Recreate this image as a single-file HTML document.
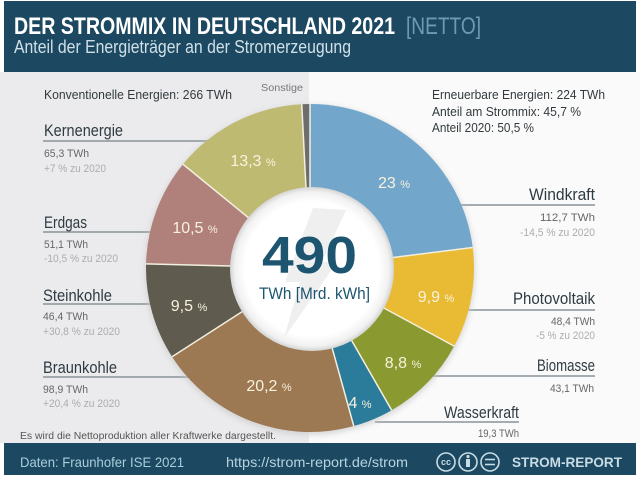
<!DOCTYPE html>
<html><head><meta charset="utf-8"><style>
html,body{margin:0;padding:0;background:#fff;}
svg{display:block;}
text{font-family:"Liberation Sans",sans-serif;}
</style></head><body>
<svg width="640" height="480" viewBox="0 0 640 480" xmlns="http://www.w3.org/2000/svg">
<defs>
<radialGradient id="wg" cx="0.5" cy="0.5" r="0.5">
<stop offset="0" stop-color="#ffffff"/>
<stop offset="0.82" stop-color="#ffffff"/>
<stop offset="0.94" stop-color="#f1f1f1"/>
<stop offset="1" stop-color="#d4d4d4"/>
</radialGradient>
<filter id="sh" x="-20%" y="-20%" width="140%" height="140%"><feGaussianBlur stdDeviation="3"/></filter>
</defs>
<rect x="0" y="0" width="640" height="480" fill="#ffffff"/>
<rect x="0" y="72" width="309" height="371" fill="#ebebed"/>
<rect x="309" y="72" width="331" height="371" fill="#fafafa"/>
<rect x="4" y="1" width="632" height="71" fill="#1c4961"/>
<rect x="4" y="443" width="632" height="32" fill="#1c4961"/>

<text x="14" y="34" font-size="24" font-weight="bold" fill="#ffffff" textLength="381" lengthAdjust="spacingAndGlyphs">DER STROMMIX IN DEUTSCHLAND 2021</text>
<text x="406" y="34" font-size="24" fill="#6e9bb2" textLength="75" lengthAdjust="spacingAndGlyphs">[NETTO]</text>
<text x="14" y="53" font-size="18" fill="#cfe0e8" textLength="337" lengthAdjust="spacingAndGlyphs">Anteil der Energieträger an der Stromerzeugung</text>

<g stroke="#8a9399" stroke-width="1.5">
<line x1="43" y1="141" x2="215" y2="141"/>
<line x1="43" y1="232" x2="160" y2="232"/>
<line x1="43" y1="304" x2="165" y2="304"/>
<line x1="43" y1="377" x2="190" y2="377"/>
<line x1="455" y1="205" x2="595" y2="205"/>
<line x1="445" y1="310" x2="595" y2="310"/>
<line x1="425" y1="376" x2="595" y2="376"/>
<line x1="375" y1="422" x2="519" y2="422"/>
</g>

<circle cx="310" cy="270" r="165" fill="#c9c9c9" filter="url(#sh)" opacity="0.7"/>

<path d="M310 268 L310 104 A164 164 0 0 1 472.71 247.45 Z" fill="#72a7cb"/>
<path d="M310 268 L472.71 247.45 A164 164 0 0 1 454.21 346.10 Z" fill="#e9bb35"/>
<path d="M310 268 L454.21 346.10 A164 164 0 0 1 391.70 410.20 Z" fill="#8b9a30"/>
<path d="M310 268 L391.70 410.20 A164 164 0 0 1 353.77 426.05 Z" fill="#2b7b9b"/>
<path d="M310 268 L353.77 426.05 A164 164 0 0 1 172.07 356.74 Z" fill="#9c7853"/>
<path d="M310 268 L172.07 356.74 A164 164 0 0 1 146.05 263.88 Z" fill="#5f5b4f"/>
<path d="M310 268 L146.05 263.88 A164 164 0 0 1 183.00 164.24 Z" fill="#b0807b"/>
<path d="M310 268 L183.00 164.24 A164 164 0 0 1 301.76 104.21 Z" fill="#bfba72"/>
<path d="M310 268 L301.76 104.21 A164 164 0 0 1 310 104 Z" fill="#6d6d6d"/>
<g stroke="#f3efde" stroke-width="1.5">
<line x1="310" y1="268" x2="310" y2="104"/>
<line x1="310" y1="268" x2="472.71" y2="247.45"/>
<line x1="310" y1="268" x2="454.21" y2="346.10"/>
<line x1="310" y1="268" x2="391.70" y2="410.20"/>
<line x1="310" y1="268" x2="353.77" y2="426.05"/>
<line x1="310" y1="268" x2="172.07" y2="356.74"/>
<line x1="310" y1="268" x2="146.05" y2="263.88"/>
<line x1="310" y1="268" x2="183.00" y2="164.24"/>
<line x1="310" y1="268" x2="301.76" y2="104.21"/>
</g>

<circle cx="312" cy="269" r="82" fill="url(#wg)"/>
<polygon points="313,208 346,210 322,262 337,262 284,338 300,282 285,282" fill="#efeff0"/>
<text x="262" y="273" font-size="52" font-weight="bold" fill="#1d5571" textLength="95" lengthAdjust="spacingAndGlyphs">490</text>
<text x="259" y="299" font-size="17" fill="#1d5571" textLength="111" lengthAdjust="spacingAndGlyphs">TWh [Mrd. kWh]</text>

<g fill="#f8f2dc" font-size="16" text-anchor="middle">
<text x="394" y="188">23 <tspan font-size="11">%</tspan></text>
<text x="253" y="166">13,3 <tspan font-size="11">%</tspan></text>
<text x="195" y="233">10,5 <tspan font-size="11">%</tspan></text>
<text x="189" y="311">9,5 <tspan font-size="11">%</tspan></text>
<text x="269" y="391">20,2 <tspan font-size="11">%</tspan></text>
<text x="360" y="408">4 <tspan font-size="11">%</tspan></text>
<text x="403" y="368">8,8 <tspan font-size="11">%</tspan></text>
<text x="436" y="302">9,9 <tspan font-size="11">%</tspan></text>
</g>

<text x="44" y="99" font-size="12.5" fill="#333a3e" textLength="188" lengthAdjust="spacingAndGlyphs">Konventionelle Energien: 266 TWh</text>
<text x="261" y="91" font-size="10.5" fill="#777" textLength="42" lengthAdjust="spacingAndGlyphs">Sonstige</text>

<g fill="#2e3b42" font-size="16.5">
<text x="44" y="136" textLength="79" lengthAdjust="spacingAndGlyphs">Kernenergie</text>
<text x="44" y="228" textLength="43" lengthAdjust="spacingAndGlyphs">Erdgas</text>
<text x="43" y="301" textLength="69" lengthAdjust="spacingAndGlyphs">Steinkohle</text>
<text x="43" y="373" textLength="74" lengthAdjust="spacingAndGlyphs">Braunkohle</text>
<text x="529" y="200" textLength="66" lengthAdjust="spacingAndGlyphs">Windkraft</text>
<text x="513" y="304" textLength="82" lengthAdjust="spacingAndGlyphs">Photovoltaik</text>
<text x="537" y="371" textLength="58" lengthAdjust="spacingAndGlyphs">Biomasse</text>
<text x="444" y="418" textLength="75" lengthAdjust="spacingAndGlyphs">Wasserkraft</text>
</g>
<g fill="#666" font-size="11">
<text x="44" y="157" textLength="45" lengthAdjust="spacingAndGlyphs">65,3 TWh</text>
<text x="44" y="248" textLength="44" lengthAdjust="spacingAndGlyphs">51,1 TWh</text>
<text x="43" y="320" textLength="45" lengthAdjust="spacingAndGlyphs">46,4 TWh</text>
<text x="43" y="393" textLength="45" lengthAdjust="spacingAndGlyphs">98,9 TWh</text>
<text x="540" y="221" textLength="55" lengthAdjust="spacingAndGlyphs">112,7 TWh</text>
<text x="551" y="325" textLength="44" lengthAdjust="spacingAndGlyphs">48,4 TWh</text>
<text x="550" y="392" textLength="44" lengthAdjust="spacingAndGlyphs">43,1 TWh</text>
<text x="478" y="437" textLength="41" lengthAdjust="spacingAndGlyphs">19,3 TWh</text>
</g>
<g fill="#acacac" font-size="11">
<text x="44" y="172" textLength="62" lengthAdjust="spacingAndGlyphs">+7 % zu 2020</text>
<text x="44" y="262" textLength="74" lengthAdjust="spacingAndGlyphs">-10,5 % zu 2020</text>
<text x="43" y="335" textLength="77" lengthAdjust="spacingAndGlyphs">+30,8 % zu 2020</text>
<text x="43" y="407" textLength="77" lengthAdjust="spacingAndGlyphs">+20,4 % zu 2020</text>
<text x="520" y="236" textLength="75" lengthAdjust="spacingAndGlyphs">-14,5 % zu 2020</text>
<text x="536" y="339" textLength="59" lengthAdjust="spacingAndGlyphs">-5 % zu 2020</text>
</g>

<g fill="#333a3e" font-size="12.5">
<text x="432" y="99" textLength="173" lengthAdjust="spacingAndGlyphs">Erneuerbare Energien: 224 TWh</text>
<text x="432" y="116" textLength="149" lengthAdjust="spacingAndGlyphs">Anteil am Strommix: 45,7 %</text>
<text x="432" y="132" textLength="102" lengthAdjust="spacingAndGlyphs">Anteil 2020: 50,5 %</text>
</g>

<text x="20" y="439" font-size="10" fill="#555" textLength="256" lengthAdjust="spacingAndGlyphs">Es wird die Nettoproduktion aller Kraftwerke dargestellt.</text>

<text x="20" y="467" font-size="14" fill="#a8cddd" textLength="164" lengthAdjust="spacingAndGlyphs">Daten: Fraunhofer ISE 2021</text>
<text x="226" y="467" font-size="14" fill="#b5d3e0" textLength="182" lengthAdjust="spacingAndGlyphs">https://strom-report.de/strom</text>
<g stroke="#c8dce5" stroke-width="1.6" fill="none">
<circle cx="446" cy="462" r="9"/>
<circle cx="468" cy="462" r="9"/>
<circle cx="490" cy="462" r="9"/>
<line x1="485" y1="459.5" x2="495" y2="459.5"/>
<line x1="485" y1="464.5" x2="495" y2="464.5"/>
</g>
<text x="446" y="465" font-size="9" font-weight="bold" fill="#c8dce5" text-anchor="middle">cc</text>
<circle cx="468" cy="456.5" r="1.6" fill="#c8dce5"/>
<rect x="466" y="459" width="4" height="8" fill="#c8dce5"/>
<text x="512" y="467" font-size="14" font-weight="bold" fill="#c8dce5" textLength="110" lengthAdjust="spacingAndGlyphs">STROM-REPORT</text>
</svg>
</body></html>
